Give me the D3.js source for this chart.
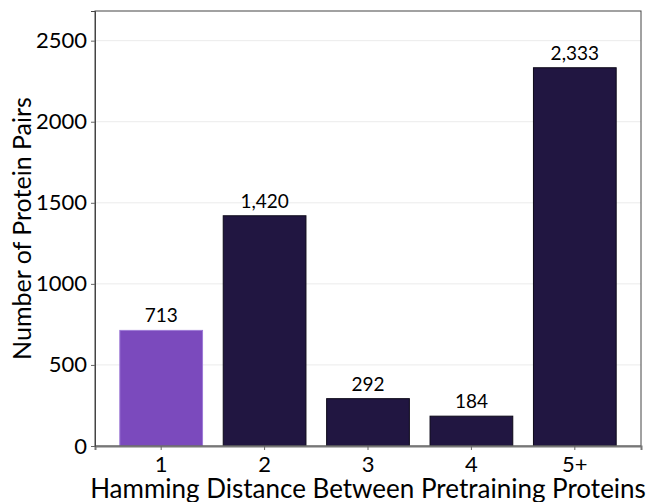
<!DOCTYPE html>
<html>
<head>
<meta charset="utf-8">
<script src="https://cdn.jsdelivr.net/npm/d3@7"></script>
<style>
  body { margin: 0; background: #fff; }
  svg text { font-family: Lato, "DejaVu Sans", sans-serif; fill: #000; }
</style>
</head>
<body>
<div id="chart-area"></div>
<script>
// data
var categories = ["1", "2", "3", "4", "5+"];
var counts = [713, 1420, 292, 184, 2333];
var yTicks = [0, 500, 1000, 1500, 2000, 2500];

var margin = {top: 11, bottom: 56, left: 95, right: 9};
var width = 650 - margin.left - margin.right;
var height = 502 - margin.top - margin.bottom;

var svg = d3.select("#chart-area").append("svg")
    .attr("width", 650)
    .attr("height", 502);

var g = svg.append("g")
    .attr("transform", "translate(" + margin.left + "," + margin.top + ")");

var x = d3.scaleBand()
    .domain(categories)
    .range([0, width])
    .paddingInner(0.2)
    .paddingOuter(0.24);

var y = d3.scaleLinear()
    .domain([0, d3.max(counts) * 1.15])
    .range([height, 0]);

// grid
g.selectAll("line.grid").data(yTicks).enter().append("line")
    .attr("class", "grid")
    .attr("x1", 0).attr("x2", width)
    .attr("y1", function(d){ return y(d); })
    .attr("y2", function(d){ return y(d); })
    .attr("stroke", "#ebebeb")
    .attr("stroke-width", 1);

var data = categories.map(function(c, i){ return {cat: c, value: counts[i]}; });

g.selectAll("rect.bar").data(data).enter().append("rect")
    .attr("class", "bar")
    .attr("x", function(d){ return x(d.cat); })
    .attr("y", function(d){ return y(d.value); })
    .attr("width", x.bandwidth())
    .attr("height", function(d){ return height - y(d.value); })
    .attr("fill", function(d, i){ return i === 0 ? "#7b4abd" : "#211641"; })
    .attr("stroke", function(d, i){ return i === 0 ? "#9d7ad6" : "#0c0818"; })
    .attr("stroke-width", 1);

g.selectAll("text.val").data(data).enter().append("text")
    .attr("class", "val")
    .attr("x", function(d){ return x(d.cat) + x.bandwidth() / 2; })
    .attr("y", function(d){ return y(d.value) - 8; })
    .attr("text-anchor", "middle")
    .attr("font-size", "19px")
    .text(function(d){ return d3.format(",")(d.value); });

// frame
g.append("rect")
    .attr("x", 0).attr("y", 0)
    .attr("width", width).attr("height", height)
    .attr("fill", "none")
    .attr("stroke", "#444")
    .attr("stroke-width", 1);

var xAxis = g.append("g")
    .attr("transform", "translate(0," + height + ")")
    .call(d3.axisBottom(x).tickSize(4).tickPadding(6));
xAxis.select(".domain").attr("stroke", "#777").attr("stroke-width", 2);
xAxis.selectAll(".tick line").attr("stroke", "#666");
xAxis.selectAll("text").attr("font-size", "22px").attr("fill", "#000");

var yAxis = g.append("g")
    .call(d3.axisLeft(y).tickValues(yTicks).tickFormat(d3.format("d")).tickSize(4).tickPadding(4));
yAxis.select(".domain").attr("stroke", "#444");
yAxis.selectAll(".tick line").attr("stroke", "#666");
yAxis.selectAll("text").attr("font-size", "22px").attr("fill", "#000");

svg.append("text")
    .attr("x", margin.left + width / 2)
    .attr("y", 498)
    .attr("text-anchor", "middle")
    .attr("font-size", "26px")
    .text("Hamming Distance Between Pretraining Proteins");

svg.append("text")
    .attr("transform", "translate(31," + (margin.top + height / 2) + ") rotate(-90)")
    .attr("text-anchor", "middle")
    .attr("font-size", "25px")
    .text("Number of Protein Pairs");
</script>
</body>
</html>
